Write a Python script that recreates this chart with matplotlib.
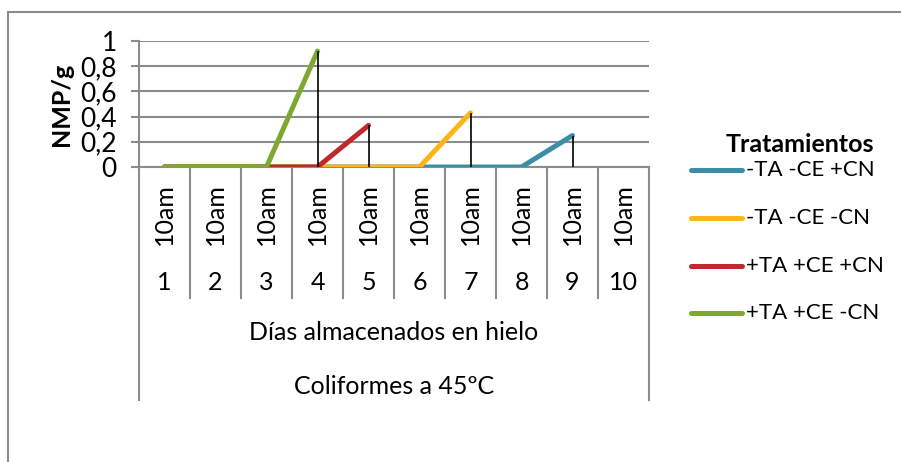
import numpy as np
import matplotlib
matplotlib.use("Agg")
import matplotlib.pyplot as plt
from matplotlib.lines import Line2D

plt.rcParams["font.family"] = ["Lato", "DejaVu Sans"]

# datos
dias = [1, 2, 3, 4, 5, 6, 7, 8, 9, 10]
horas = ["10am"] * 10
nivel_2 = "Días almacenados en hielo"
nivel_3 = "Coliformes a 45ºC"
y_ticks = [0, 0.2, 0.4, 0.6, 0.8, 1]
y_labels = ["0", "0,2", "0,4", "0,6", "0,8", "1"]

nombres = ["-TA -CE +CN", "-TA -CE -CN", "+TA +CE +CN", "+TA +CE -CN"]
colores = ["#3A8FA6", "#FDB515", "#C0282D", "#7EA832"]
s_menos_menos_mas = [0, 0, 0, 0, 0, 0, 0, 0, 0.25, np.nan]
s_menos_menos_menos = [0, 0, 0, 0, 0, 0, 0.43, np.nan, np.nan, np.nan]
s_mas_mas_mas = [0, 0, 0, 0, 0.33, np.nan, np.nan, np.nan, np.nan, np.nan]
s_mas_mas_menos = [0, 0, 0, 0.92, np.nan, np.nan, np.nan, np.nan, np.nan, np.nan]
series = [s_menos_menos_mas, s_menos_menos_menos, s_mas_mas_mas, s_mas_mas_menos]

W, H = 901, 462
fig = plt.figure(figsize=(W / 100, H / 100), dpi=100)
# área de trazado en píxeles: x 139-649, y 41-167
x0, x1, ytop, ybot = 139, 649, 41, 167
ax = fig.add_axes([x0 / W, 1 - ybot / H, (x1 - x0) / W, (ybot - ytop) / H])

gris = "#8C8C8C"
fs = 18
fs_leg = 16

for vals, col, nom in zip(series, colores, nombres):
    ax.plot(dias, vals, color=col, lw=3.6, solid_capstyle="round",
            solid_joinstyle="round", label=nom, zorder=3)

# líneas de unión (drop lines)
for vals in series:
    v = np.array(vals, dtype=float)
    ok = ~np.isnan(v)
    ax.vlines(np.array(dias)[ok], 0, v[ok], color="black", lw=1.2, zorder=4)

ax.set_xlim(0.5, 10.5)
ax.set_ylim(0, 1)
ax.set_yticks(y_ticks)
ax.set_yticklabels(y_labels, fontsize=19)
ax.yaxis.grid(True, color=gris, lw=1.5)
ax.set_axisbelow(True)
ax.tick_params(axis="y", length=6, width=1.5, color=gris, pad=10)
ax.set_xticks([])
for side in ["top", "right"]:
    ax.spines[side].set_visible(False)
ax.spines["left"].set_color(gris)
ax.spines["left"].set_linewidth(1.5)
ax.spines["bottom"].set_color(gris)
ax.spines["bottom"].set_linewidth(1.5)
ax.set_ylabel("NMP/g", fontsize=fs, fontweight="bold", labelpad=5)

# eje de categorías en varios niveles
alto = ybot - ytop


def fy(ypix):
    return (ybot - ypix) / alto


tr = ax.get_xaxis_transform()
for i in range(len(dias) + 1):
    xb = 0.5 + i
    fondo = 400 if i in (0, len(dias)) else 298
    ax.add_line(Line2D([xb, xb], [0, fy(fondo)], transform=tr, color=gris,
                       lw=1.5, clip_on=False))
for d, h in zip(dias, horas):
    ax.text(d, fy(214), h, transform=tr, rotation=90, ha="center",
            va="center", fontsize=fs)
    ax.text(d, fy(282), str(d), transform=tr, ha="center", va="center",
            fontsize=fs)
ax.text(5.5, fy(333), nivel_2, transform=tr, ha="center", va="center",
        fontsize=fs)
ax.text(5.5, fy(386), nivel_3, transform=tr, ha="center", va="center",
        fontsize=fs)


# leyenda dibujada a mano en píxeles de la figura
def fx(xpix):
    return xpix / W


def fyf(ypix):
    return 1 - ypix / H


fig.text(fx(800), fyf(145), "Tratamientos", ha="center", va="center",
         fontsize=18, fontweight="bold")
y_leg = [170, 218, 266, 313]
for yl, c, nom in zip(y_leg, colores, nombres):
    fig.add_artist(Line2D([fx(691), fx(742)], [fyf(yl), fyf(yl)], color=c,
                          lw=3.6, solid_capstyle="round"))
    fig.text(fx(746), fyf(yl), nom, ha="left", va="center", fontsize=fs_leg)

# borde del gráfico
fig.add_artist(Line2D([8 / W, 1], [1 - 12 / H, 1 - 12 / H], color=gris, lw=1.5))
fig.add_artist(Line2D([8 / W, 8 / W], [0, 1 - 12 / H], color=gris, lw=1.5))

fig.savefig("out.png", dpi=100)
